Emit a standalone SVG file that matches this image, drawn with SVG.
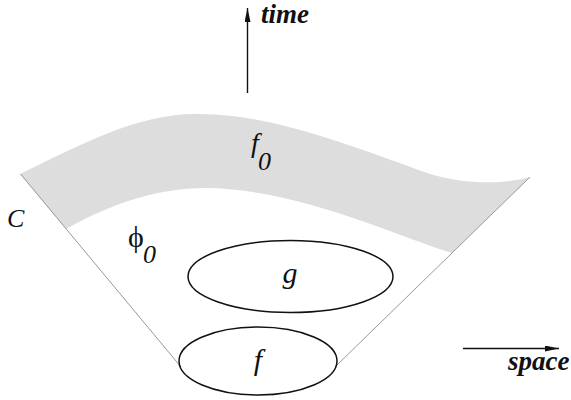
<svg xmlns="http://www.w3.org/2000/svg" width="571" height="400" viewBox="0 0 571 400">
<defs>
<marker id="ah" viewBox="0 0 14 6" refX="14" refY="3" markerWidth="14" markerHeight="6" markerUnits="userSpaceOnUse" orient="auto">
<path d="M0,0 L14,3 L0,6 Z" fill="#111"/>
</marker>
<style>
text{font-family:'Liberation Serif','Times New Roman',Times,serif;fill:#111}
.it{font-style:italic}
.ax{font-style:italic;font-weight:bold;font-size:27px}
.ell{fill:none;stroke:#111;stroke-width:1.5}
.cone{stroke:#999;stroke-width:1;fill:none}
.arr{stroke:#111;stroke-width:1.4;fill:none;marker-end:url(#ah)}
</style>
</defs>
<rect width="571" height="400" fill="#fff"/>
<g id="band">
<path d="M20,174 C80,145 140,112 200,114 C270,114 350,145 430,174 C470,186 510,183 530,177 L452,253 C400,237 300,190 210,188 C150,187 100,210 66,229 Z" fill="#dddddd"/>
<text class="it" x="251" y="152" font-size="28">f</text>
<text class="it" x="258" y="170" font-size="26">0</text>
</g>
<g id="connectors">
<line class="cone" x1="20.5" y1="174" x2="181" y2="367"/>
<line class="cone" x1="530" y1="177" x2="337" y2="365"/>
<line class="arr" x1="247.5" y1="93" x2="247.5" y2="8"/>
<line class="arr" x1="463" y1="348.5" x2="559" y2="348.5"/>
</g>
<g id="node-g">
<ellipse class="ell" cx="290.5" cy="276.5" rx="102.5" ry="36"/>
<text class="it" x="290" y="283" font-size="30" text-anchor="middle">g</text>
</g>
<g id="node-f">
<ellipse class="ell" cx="258" cy="361" rx="79" ry="34"/>
<text class="it" x="258" y="370" font-size="30" text-anchor="middle">f</text>
</g>
<g id="labels">
<text class="ax" x="261" y="23">time</text>
<text class="ax" x="508" y="370">space</text>
<text class="it" x="7" y="227" font-size="26">C</text>
<text x="128" y="247" font-size="30">ϕ</text>
<text class="it" x="143" y="263" font-size="26">0</text>
</g>
</svg>
